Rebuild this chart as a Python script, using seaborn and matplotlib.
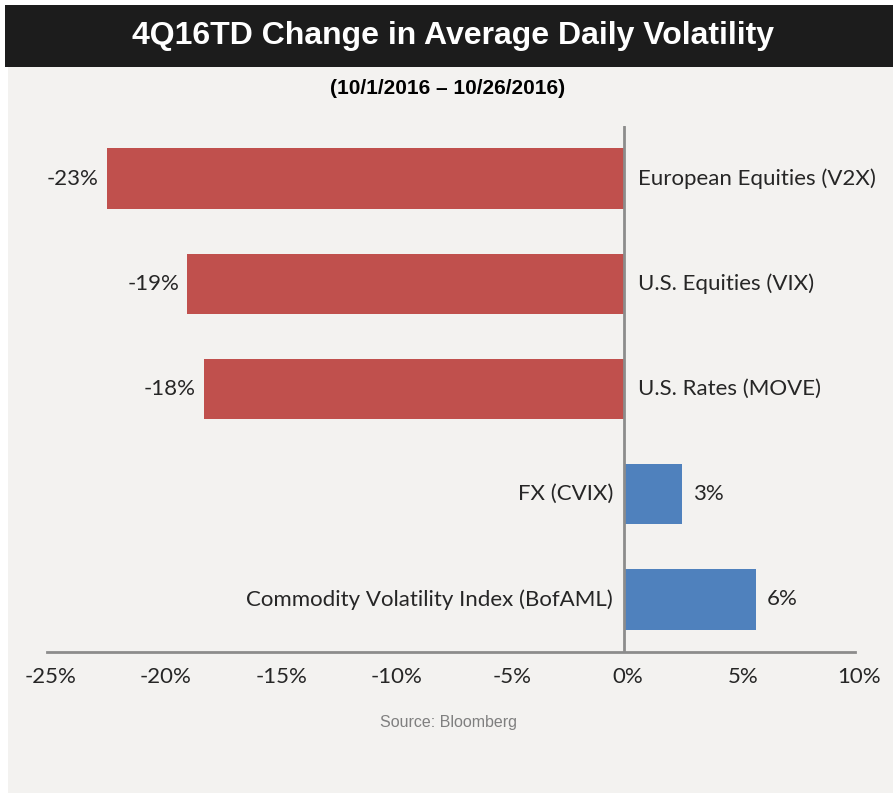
import matplotlib
matplotlib.use("Agg")
import matplotlib.pyplot as plt
import matplotlib.transforms as mtransforms
import seaborn as sns
from matplotlib.patches import Rectangle

# data
categories = ["European Equities (V2X)", "U.S. Equities (VIX)", "U.S. Rates (MOVE)",
              "FX (CVIX)", "Commodity Volatility Index (BofAML)"]
changes = [-22.4, -18.9, -18.2, 2.5, 5.7]
value_labels = ["-23%", "-19%", "-18%", "3%", "6%"]
x_ticks = [-25, -20, -15, -10, -5, 0, 5, 10]

red = "#c0504d"
blue = "#4f81bd"
panel = "#f3f2f0"
line_col = "#8c8c8c"
bar_cols = [red if v < 0 else blue for v in changes]

sns.set_style("white")
plt.rcParams["font.family"] = ["Lato", "DejaVu Sans"]

fig = plt.figure(figsize=(8.93, 8.01), dpi=100)
fig.patch.set_facecolor("white")
W, H = 893, 801

# grey panel and black title bar
fig.patches.append(Rectangle((8 / W, 1 - 793 / H), 1 - 8 / W, (793 - 67) / H,
                             transform=fig.transFigure, facecolor=panel, edgecolor="none", zorder=-5))
fig.patches.append(Rectangle((5 / W, 1 - 67 / H), 1 - 5 / W, (67 - 5) / H,
                             transform=fig.transFigure, facecolor="#1c1c1c", edgecolor="none", zorder=-5))
fig.text(453 / W, 1 - 36 / H, "4Q16TD Change in Average Daily Volatility", color="white",
         fontsize=23, fontweight="bold", family=["Liberation Sans", "DejaVu Sans"],
         ha="center", va="center")
fig.text(448 / W, 1 - 88 / H, "(10/1/2016 \u2013 10/26/2016)", color="black",
         fontsize=15, fontweight="bold", family=["Liberation Sans", "DejaVu Sans"],
         ha="center", va="center")
fig.text(449 / W, 1 - 722 / H, "Source: Bloomberg", color="#7f7f7f", fontsize=11.5,
         family=["Liberation Sans", "DejaVu Sans"], ha="center", va="center")

ax = fig.add_axes([46.5 / W, 1 - 652 / H, (855 - 46.5) / W, (652 - 126) / H])
ax.set_facecolor("none")

sns.barplot(x=changes, y=categories, hue=categories, palette=bar_cols, legend=False,
            orient="h", width=0.575, saturation=1, linewidth=0, ax=ax)

ax.set_xlim(-25, 10)
ax.set_ylim(4.5, -0.5)
ax.set_xlabel("")
ax.set_ylabel("")
ax.set_xticks(x_ticks)
ax.set_xticklabels([f"{t}%" for t in x_ticks], fontsize=16)
ax.set_yticks([])
ax.tick_params(axis="x", length=0, pad=11)
# labels sit a few pixels right of the ticks, as in the original
shift = mtransforms.ScaledTranslation(4 / 100, 0, fig.dpi_scale_trans)
for lbl in ax.get_xticklabels():
    lbl.set_transform(lbl.get_transform() + shift)
for s in ["top", "left", "right"]:
    ax.spines[s].set_visible(False)
ax.spines["bottom"].set_color(line_col)
ax.spines["bottom"].set_linewidth(2)
ax.axvline(0, color=line_col, lw=2, zorder=3)

for i, (cat, v, lab) in enumerate(zip(categories, changes, value_labels)):
    if v < 0:
        ax.annotate(cat, (0, i), xytext=(10, 0), textcoords="offset points",
                    ha="left", va="center", fontsize=16)
        ax.annotate(lab, (v, i), xytext=(-6, 0), textcoords="offset points",
                    ha="right", va="center", fontsize=16)
    else:
        ax.annotate(cat, (0, i), xytext=(-8, 0), textcoords="offset points",
                    ha="right", va="center", fontsize=16)
        ax.annotate(lab, (v, i), xytext=(8, 0), textcoords="offset points",
                    ha="left", va="center", fontsize=16)

fig.savefig("out.png", dpi=100, facecolor=fig.get_facecolor())
